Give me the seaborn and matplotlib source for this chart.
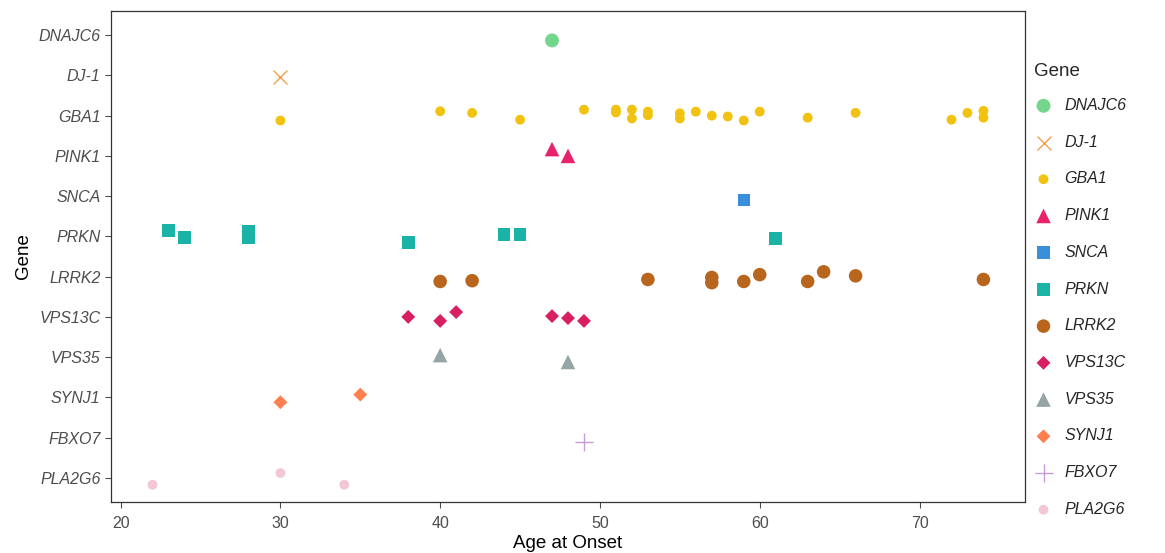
import matplotlib
matplotlib.use("Agg")
import matplotlib.pyplot as plt
import seaborn as sns
import pandas as pd

# genes, top to bottom as on the y axis
genes = ["DNAJC6", "DJ-1", "GBA1", "PINK1", "SNCA", "PRKN",
         "LRRK2", "VPS13C", "VPS35", "SYNJ1", "FBXO7", "PLA2G6"]

# age at onset per gene, with the vertical jitter (category units, + is up)
ages = {
    "DNAJC6": [47],
    "DJ-1": [30],
    "GBA1": [30, 40, 42, 45, 49, 51, 51, 52, 52, 53, 53, 55, 55, 56, 57, 58, 59, 60, 63, 66, 72, 73, 74, 74],
    "PINK1": [47, 48],
    "SNCA": [59],
    "PRKN": [23, 24, 28, 28, 38, 44, 45, 61],
    "LRRK2": [40, 42, 53, 57, 57, 59, 60, 63, 64, 66, 74],
    "VPS13C": [38, 40, 41, 47, 48, 49],
    "VPS35": [40, 48],
    "SYNJ1": [30, 35],
    "FBXO7": [49],
    "PLA2G6": [22, 30, 34],
}
jitter = {
    "DNAJC6": [-0.13],
    "DJ-1": [-0.05],
    "GBA1": [-0.12, 0.11, 0.07, -0.10, 0.15, 0.15, 0.08, 0.15, -0.07, 0.10, 0.01, 0.06, -0.07, 0.10, 0.0, -0.02, -0.12, 0.10, -0.05, 0.07, -0.10, 0.07, 0.12, -0.05],
    "PINK1": [0.17, 0.0],
    "SNCA": [-0.10],
    "PRKN": [0.15, -0.02, 0.12, -0.03, -0.15, 0.05, 0.05, -0.05],
    "LRRK2": [-0.12, -0.10, -0.07, -0.02, -0.15, -0.12, 0.05, -0.12, 0.12, 0.02, -0.07],
    "VPS13C": [0.0, -0.10, 0.12, 0.02, -0.03, -0.10],
    "VPS35": [0.05, -0.12],
    "SYNJ1": [-0.12, 0.07],
    "FBXO7": [-0.10],
    "PLA2G6": [-0.17, 0.12, -0.17],
}

colors = {
    "DNAJC6": "#74D68C", "DJ-1": "#EFA04C", "GBA1": "#F1C20F", "PINK1": "#E8236B",
    "SNCA": "#3A8FD9", "PRKN": "#1BB3A6", "LRRK2": "#B8661E", "VPS13C": "#D81F62",
    "VPS35": "#95A5A6", "SYNJ1": "#FF7F4F", "FBXO7": "#C59BDA", "PLA2G6": "#F4C7D5",
}
markers = {
    "DNAJC6": "o", "DJ-1": "x", "GBA1": "o", "PINK1": "^", "SNCA": "s", "PRKN": "s",
    "LRRK2": "o", "VPS13C": "D", "VPS35": "^", "SYNJ1": "D", "FBXO7": "+", "PLA2G6": "o",
}
sizes = {
    "DNAJC6": 100, "DJ-1": 100, "GBA1": 50, "PINK1": 110, "SNCA": 80, "PRKN": 85,
    "LRRK2": 95, "VPS13C": 50, "VPS35": 110, "SYNJ1": 50, "FBXO7": 170, "PLA2G6": 50,
}

rows = []
n = len(genes)
for i, g in enumerate(genes):
    for a, j in zip(ages[g], jitter[g]):
        rows.append({"Gene": g, "Age": a, "pos": (n - 1 - i) + j})
df = pd.DataFrame(rows)

sns.set_theme(style="white")
plt.rcParams["font.family"] = ["Liberation Sans", "DejaVu Sans"]

fig = plt.figure(figsize=(11.65, 5.53), dpi=100)
ax = fig.add_axes([0.0953, 0.0922, 0.7845, 0.8878])

for g in genes:
    sub = df[df["Gene"] == g]
    kw = dict(linewidth=1.0) if markers[g] in ("x", "+") else dict(edgecolor="none")
    sns.scatterplot(data=sub, x="Age", y="pos", ax=ax, color=colors[g],
                    marker=markers[g], s=sizes[g], label=g, legend=False, **kw)

ax.set_xlim(19.4, 76.6)
ax.set_ylim(-0.6, n - 0.4)
ax.set_xticks([20, 30, 40, 50, 60, 70])
ax.set_yticks(range(n))
ax.set_yticklabels(genes[::-1], fontstyle="italic")
ax.tick_params(axis="both", colors="#4D4D4D", labelsize=11.5, length=4, width=0.8,
               direction="out", bottom=True, left=True)
ax.tick_params(axis="x", pad=6)
for lab in ax.get_xticklabels() + ax.get_yticklabels():
    lab.set_color("#4D4D4D")
for sp in ax.spines.values():
    sp.set_color("#333333")
    sp.set_linewidth(0.9)
ax.set_xlabel("Age at Onset", fontsize=13.5, color="black", labelpad=3)
ax.set_ylabel("Gene", fontsize=13.5, color="black", labelpad=5)

handles, labels = ax.get_legend_handles_labels()
leg = fig.legend(handles, labels, title="Gene", loc="upper left",
                 bbox_to_anchor=(0.882, 0.897), frameon=False, fontsize=11.5,
                 title_fontsize=13.5, labelspacing=1.36, handletextpad=0.7,
                 borderaxespad=0, handlelength=1.2)
leg._legend_box.align = "left"
leg._legend_box.sep = 12.7
for t in leg.get_texts():
    t.set_fontstyle("italic")

fig.savefig("out.png", dpi=100)
